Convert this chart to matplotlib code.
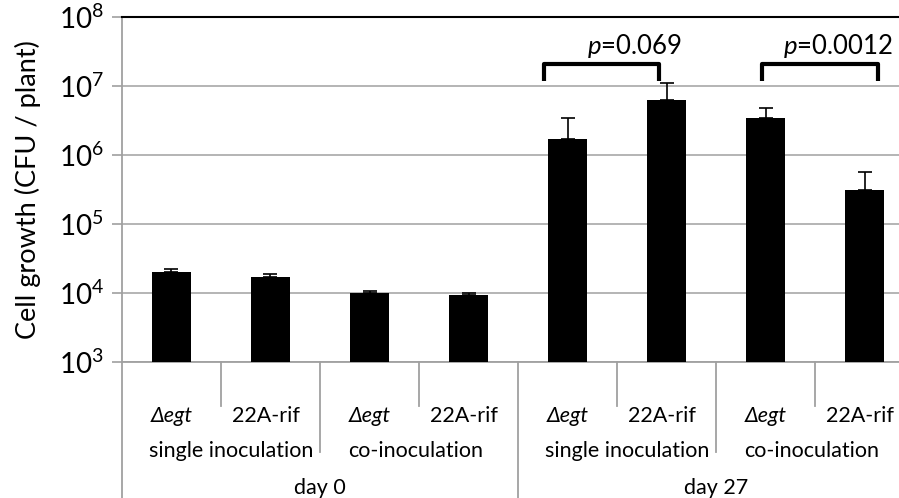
import numpy as np
import matplotlib
matplotlib.use("Agg")
import matplotlib.pyplot as plt

plt.rcParams['font.family'] = ['Lato', 'DejaVu Sans']
plt.rcParams['mathtext.fontset'] = 'custom'
plt.rcParams['mathtext.rm'] = 'Lato'
plt.rcParams['mathtext.it'] = 'Lato:italic'

strains = ['Δegt', '22A-rif', 'Δegt', '22A-rif', 'Δegt', '22A-rif', 'Δegt', '22A-rif']
groups = ['single inoculation', 'co-inoculation', 'single inoculation', 'co-inoculation']
days = ['day 0', 'day 27']

# mean CFU / plant and top of error bar
means = [2.03e4, 1.72e4, 1.0e4, 9.4e3, 1.69e6, 6.2e6, 3.4e6, 3.16e5]
err_top = [2.2e4, 1.9e4, 1.07e4, 9.9e3, 3.4e6, 1.1e7, 4.75e6, 5.6e5]

# significance brackets: (left, right, text x, label)
brackets = [(3.76, 4.92, 4.68, '0.069'), (5.96, 7.14, 6.73, '0.0012')]
bracket_y = 2.07e7
bracket_leg = 1.18e7
ptext_y = 3.8e7

fig = plt.figure(figsize=(8.99, 4.98), dpi=100)
ax = fig.add_axes([0.1357, 0.2731, 0.881, 0.6928])

x = np.arange(len(means))
upper = np.array(err_top) - np.array(means)
ax.bar(x, means, width=0.40, color='black', zorder=3)
ax.errorbar(x, means, yerr=[np.zeros(len(means)), upper], fmt='none',
            ecolor='black', elinewidth=1.2, capsize=5, capthick=1.2, zorder=4)

ax.set_yscale('log')
ax.set_ylim(1e3, 1e8)
ax.set_xlim(-0.5, len(means) - 0.5)
yt = [1e3, 1e4, 1e5, 1e6, 1e7, 1e8]
ax.set_yticks(yt)
ax.set_yticklabels([r'$\mathregular{10^{%d}}$' % int(np.log10(v)) for v in yt], fontsize=20)
ax.minorticks_off()
ax.tick_params(axis='y', direction='out', length=7, width=1.2, color='#a0a0a0', pad=6)
ax.set_xticks([])
ax.grid(axis='y', color='#a8a8a8', linewidth=1.2, zorder=0)
ax.set_ylabel('Cell growth (CFU / plant)', fontsize=19.5, labelpad=13)

ax.spines['right'].set_visible(False)
ax.spines['top'].set_color('black')
ax.spines['top'].set_linewidth(1.5)
ax.spines['left'].set_color('#a0a0a0')
ax.spines['left'].set_linewidth(1.3)
ax.spines['bottom'].set_color('#a0a0a0')
ax.spines['bottom'].set_linewidth(1.3)

# category separators below axis
tr = ax.get_xaxis_transform()
for b in np.arange(-0.5, len(means), 1.0):
    k = int(b + 0.5)
    if k % 4 == 0:
        depth = -0.40
    elif k % 2 == 0:
        depth = -0.261
    else:
        depth = -0.128
    ax.plot([b, b], [0, depth], transform=tr, color='#a0a0a0', lw=1.3, clip_on=False)

for i, s in enumerate(strains):
    if s.startswith('Δ'):
        ax.text(i, -0.157, s, transform=tr, ha='center', va='center', fontsize=15.5, style='italic')
    else:
        ax.text(i - 0.05, -0.157, s, transform=tr, ha='center', va='center', fontsize=15.5)
for j, g in enumerate(groups):
    off = 0.6 if g.startswith('single') else 0.47
    ax.text(2 * j + off, -0.258, g, transform=tr, ha='center', va='center', fontsize=15.5)
for j, d in enumerate(days):
    ax.text(4 * j + 1.5, -0.365, d, transform=tr, ha='center', va='center', fontsize=15.5)

for left, right, tx, lab in brackets:
    ax.plot([left, left, right, right], [bracket_leg, bracket_y, bracket_y, bracket_leg],
            color='black', lw=3, solid_joinstyle='round', solid_capstyle='butt', zorder=5)
    ax.text(tx, ptext_y, r'$\mathit{p}$=' + lab, ha='center', va='center', fontsize=18.5)

fig.savefig('out.png', dpi=100)
